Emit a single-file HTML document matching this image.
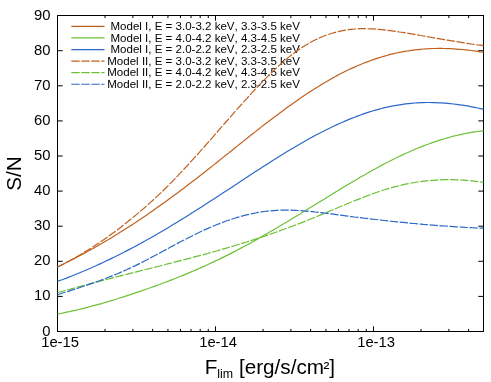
<!DOCTYPE html>
<html><head><meta charset="utf-8"><style>
html,body{margin:0;padding:0;background:#fff;}
svg{display:block;will-change:transform;font-family:"Liberation Sans",sans-serif;}
text{fill:#000;font-kerning:none;}
</style></head><body>
<svg width="491" height="382" viewBox="0 0 491 382">
<rect width="491" height="382" fill="#fff"/>
<path d="M57.5,296.40h5.2M483.5,296.40h-5.2M57.5,261.30h5.2M483.5,261.30h-5.2M57.5,226.20h5.2M483.5,226.20h-5.2M57.5,191.10h5.2M483.5,191.10h-5.2M57.5,156.00h5.2M483.5,156.00h-5.2M57.5,120.90h5.2M483.5,120.90h-5.2M57.5,85.80h5.2M483.5,85.80h-5.2M57.5,50.70h5.2M483.5,50.70h-5.2M105.06,331.5v-2.6M105.06,15.5v2.6M132.89,331.5v-2.6M132.89,15.5v2.6M152.63,331.5v-2.6M152.63,15.5v2.6M167.94,331.5v-2.6M167.94,15.5v2.6M180.45,331.5v-2.6M180.45,15.5v2.6M191.03,331.5v-2.6M191.03,15.5v2.6M200.19,331.5v-2.6M200.19,15.5v2.6M208.27,331.5v-2.6M208.27,15.5v2.6M215.50,331.5v-5.2M215.50,15.5v5.2M263.06,331.5v-2.6M263.06,15.5v2.6M290.89,331.5v-2.6M290.89,15.5v2.6M310.63,331.5v-2.6M310.63,15.5v2.6M325.94,331.5v-2.6M325.94,15.5v2.6M338.45,331.5v-2.6M338.45,15.5v2.6M349.03,331.5v-2.6M349.03,15.5v2.6M358.19,331.5v-2.6M358.19,15.5v2.6M366.27,331.5v-2.6M366.27,15.5v2.6M373.50,331.5v-5.2M373.50,15.5v5.2M421.06,331.5v-2.6M421.06,15.5v2.6M448.89,331.5v-2.6M448.89,15.5v2.6M468.63,331.5v-2.6M468.63,15.5v2.6" stroke="#000" stroke-width="1" fill="none"/>
<rect x="57.5" y="15.5" width="426.0" height="316.0" fill="none" stroke="#000" stroke-width="1"/>
<text x="50.4" y="335.50" font-size="14.8" text-anchor="end">0</text>
<text x="50.4" y="300.40" font-size="14.8" text-anchor="end">10</text>
<text x="50.4" y="265.30" font-size="14.8" text-anchor="end">20</text>
<text x="50.4" y="230.20" font-size="14.8" text-anchor="end">30</text>
<text x="50.4" y="195.10" font-size="14.8" text-anchor="end">40</text>
<text x="50.4" y="160.00" font-size="14.8" text-anchor="end">50</text>
<text x="50.4" y="124.90" font-size="14.8" text-anchor="end">60</text>
<text x="50.4" y="89.80" font-size="14.8" text-anchor="end">70</text>
<text x="50.4" y="54.70" font-size="14.8" text-anchor="end">80</text>
<text x="50.4" y="19.60" font-size="14.8" text-anchor="end">90</text>
<text x="60.10" y="347.0" font-size="14.8" text-anchor="middle">1e-15</text>
<text x="218.10" y="347.0" font-size="14.8" text-anchor="middle">1e-14</text>
<text x="376.10" y="347.0" font-size="14.8" text-anchor="middle">1e-13</text>
<path d="M71.3,26.40H104.5" stroke="#c0601f" stroke-width="1.2" fill="none"/>
<text x="299.9" y="30.20" font-size="11.54" text-anchor="end">Model I, E = 3.0-3.2 keV, 3.3-3.5 keV</text>
<path d="M71.3,37.97H104.5" stroke="#6cc035" stroke-width="1.2" fill="none"/>
<text x="299.9" y="41.77" font-size="11.54" text-anchor="end">Model I, E = 4.0-4.2 keV, 4.3-4.5 keV</text>
<path d="M71.3,49.54H104.5" stroke="#2b69c7" stroke-width="1.2" fill="none"/>
<text x="299.9" y="53.34" font-size="11.54" text-anchor="end">Model I, E = 2.0-2.2 keV, 2.3-2.5 keV</text>
<path d="M71.3,61.11H104.5" stroke="#c0601f" stroke-width="1.2" stroke-dasharray="8.4,1.6" fill="none"/>
<text x="299.9" y="64.91" font-size="11.54" text-anchor="end">Model II, E = 3.0-3.2 keV, 3.3-3.5 keV</text>
<path d="M71.3,72.68H104.5" stroke="#6cc035" stroke-width="1.2" stroke-dasharray="8.4,1.6" fill="none"/>
<text x="299.9" y="76.48" font-size="11.54" text-anchor="end">Model II, E = 4.0-4.2 keV, 4.3-4.5 keV</text>
<path d="M71.3,84.25H104.5" stroke="#2b69c7" stroke-width="1.2" stroke-dasharray="8.4,1.6" fill="none"/>
<text x="299.9" y="88.05" font-size="11.54" text-anchor="end">Model II, E = 2.0-2.2 keV, 2.3-2.5 keV</text>
<polyline points="57.5,267.0 60.5,265.5 63.5,264.0 66.5,262.5 69.5,261.0 72.5,259.5 75.5,257.9 78.5,256.3 81.5,254.7 84.5,253.1 87.5,251.5 90.5,249.8 93.5,248.2 96.5,246.5 99.5,244.7 102.5,243.0 105.5,241.2 108.5,239.5 111.5,237.7 114.5,235.8 117.5,234.0 120.5,232.1 123.5,230.2 126.5,228.3 129.5,226.4 132.5,224.4 135.5,222.5 138.5,220.5 141.5,218.5 144.5,216.4 147.5,214.4 150.5,212.3 153.5,210.2 156.5,208.1 159.5,206.0 162.5,203.8 165.5,201.7 168.5,199.5 171.5,197.3 174.5,195.1 177.5,192.9 180.5,190.6 183.5,188.4 186.5,186.1 189.5,183.8 192.5,181.5 195.5,179.2 198.5,176.9 201.5,174.6 204.5,172.2 207.5,169.8 210.5,167.5 213.5,165.1 216.5,162.7 219.5,160.3 222.5,157.9 225.5,155.5 228.5,153.1 231.5,150.7 234.5,148.3 237.5,145.9 240.5,143.5 243.5,141.1 246.5,138.7 249.5,136.3 252.5,134.0 255.5,131.6 258.5,129.3 261.5,126.9 264.5,124.6 267.5,122.3 270.5,120.0 273.5,117.7 276.5,115.4 279.5,113.2 282.5,111.0 285.5,108.8 288.5,106.6 291.5,104.4 294.5,102.3 297.5,100.2 300.5,98.1 303.5,96.1 306.5,94.1 309.5,92.1 312.5,90.2 315.5,88.2 318.5,86.4 321.5,84.5 324.5,82.7 327.5,81.0 330.5,79.2 333.5,77.6 336.5,75.9 339.5,74.3 342.5,72.8 345.5,71.3 348.5,69.8 351.5,68.4 354.5,67.1 357.5,65.8 360.5,64.5 363.5,63.3 366.5,62.1 369.5,61.0 372.5,59.9 375.5,58.9 378.5,57.9 381.5,57.0 384.5,56.1 387.5,55.2 390.5,54.4 393.5,53.7 396.5,53.0 399.5,52.4 402.5,51.8 405.5,51.2 408.5,50.8 411.5,50.3 414.5,49.9 417.5,49.6 420.5,49.3 423.5,49.0 426.5,48.8 429.5,48.7 432.5,48.5 435.5,48.5 438.5,48.4 441.5,48.4 444.5,48.5 447.5,48.6 450.5,48.7 453.5,48.9 456.5,49.1 459.5,49.3 462.5,49.5 465.5,49.8 468.5,50.2 471.5,50.5 474.5,50.9 477.5,51.3 480.5,51.8 483.5,52.2" fill="none" stroke="#c0601f" stroke-width="1.2" stroke-linejoin="round"/>
<polyline points="57.5,314.1 60.5,313.5 63.5,312.9 66.5,312.2 69.5,311.6 72.5,310.9 75.5,310.3 78.5,309.5 81.5,308.8 84.5,308.1 87.5,307.3 90.5,306.5 93.5,305.7 96.5,304.9 99.5,304.1 102.5,303.3 105.5,302.4 108.5,301.5 111.5,300.6 114.5,299.7 117.5,298.8 120.5,297.8 123.5,296.9 126.5,295.9 129.5,294.9 132.5,293.9 135.5,292.9 138.5,291.9 141.5,290.9 144.5,289.8 147.5,288.8 150.5,287.7 153.5,286.6 156.5,285.6 159.5,284.5 162.5,283.3 165.5,282.2 168.5,281.1 171.5,279.9 174.5,278.7 177.5,277.5 180.5,276.3 183.5,275.1 186.5,273.9 189.5,272.6 192.5,271.3 195.5,270.1 198.5,268.8 201.5,267.4 204.5,266.1 207.5,264.7 210.5,263.3 213.5,261.9 216.5,260.5 219.5,259.1 222.5,257.6 225.5,256.1 228.5,254.6 231.5,253.1 234.5,251.6 237.5,250.0 240.5,248.4 243.5,246.8 246.5,245.2 249.5,243.6 252.5,241.9 255.5,240.2 258.5,238.5 261.5,236.8 264.5,235.1 267.5,233.4 270.5,231.6 273.5,229.9 276.5,228.1 279.5,226.3 282.5,224.6 285.5,222.8 288.5,220.9 291.5,219.1 294.5,217.3 297.5,215.5 300.5,213.7 303.5,211.8 306.5,210.0 309.5,208.1 312.5,206.3 315.5,204.4 318.5,202.6 321.5,200.7 324.5,198.9 327.5,197.0 330.5,195.2 333.5,193.3 336.5,191.5 339.5,189.7 342.5,187.8 345.5,186.0 348.5,184.2 351.5,182.4 354.5,180.7 357.5,178.9 360.5,177.1 363.5,175.4 366.5,173.7 369.5,172.0 372.5,170.3 375.5,168.7 378.5,167.0 381.5,165.4 384.5,163.8 387.5,162.3 390.5,160.7 393.5,159.2 396.5,157.7 399.5,156.3 402.5,154.9 405.5,153.5 408.5,152.2 411.5,150.8 414.5,149.5 417.5,148.3 420.5,147.1 423.5,145.9 426.5,144.8 429.5,143.7 432.5,142.6 435.5,141.6 438.5,140.6 441.5,139.6 444.5,138.7 447.5,137.8 450.5,137.0 453.5,136.2 456.5,135.5 459.5,134.8 462.5,134.1 465.5,133.5 468.5,132.9 471.5,132.4 474.5,131.9 477.5,131.5 480.5,131.1 483.5,130.8" fill="none" stroke="#6cc035" stroke-width="1.2" stroke-linejoin="round"/>
<polyline points="57.5,281.4 60.5,280.3 63.5,279.2 66.5,278.1 69.5,276.9 72.5,275.7 75.5,274.5 78.5,273.3 81.5,272.0 84.5,270.8 87.5,269.5 90.5,268.2 93.5,266.8 96.5,265.5 99.5,264.1 102.5,262.7 105.5,261.3 108.5,259.9 111.5,258.4 114.5,257.0 117.5,255.5 120.5,254.0 123.5,252.5 126.5,250.9 129.5,249.4 132.5,247.8 135.5,246.2 138.5,244.6 141.5,242.9 144.5,241.3 147.5,239.6 150.5,237.9 153.5,236.2 156.5,234.5 159.5,232.7 162.5,231.0 165.5,229.2 168.5,227.4 171.5,225.6 174.5,223.8 177.5,222.0 180.5,220.1 183.5,218.3 186.5,216.4 189.5,214.5 192.5,212.6 195.5,210.7 198.5,208.8 201.5,206.9 204.5,205.0 207.5,203.0 210.5,201.1 213.5,199.2 216.5,197.2 219.5,195.3 222.5,193.3 225.5,191.3 228.5,189.4 231.5,187.4 234.5,185.4 237.5,183.4 240.5,181.5 243.5,179.5 246.5,177.5 249.5,175.5 252.5,173.6 255.5,171.6 258.5,169.7 261.5,167.7 264.5,165.8 267.5,163.9 270.5,162.0 273.5,160.1 276.5,158.2 279.5,156.3 282.5,154.4 285.5,152.6 288.5,150.8 291.5,149.0 294.5,147.2 297.5,145.4 300.5,143.7 303.5,142.0 306.5,140.3 309.5,138.6 312.5,136.9 315.5,135.3 318.5,133.7 321.5,132.2 324.5,130.7 327.5,129.2 330.5,127.7 333.5,126.3 336.5,124.9 339.5,123.5 342.5,122.2 345.5,120.9 348.5,119.6 351.5,118.4 354.5,117.2 357.5,116.1 360.5,115.0 363.5,113.9 366.5,112.9 369.5,111.9 372.5,111.0 375.5,110.1 378.5,109.3 381.5,108.5 384.5,107.7 387.5,107.1 390.5,106.4 393.5,105.8 396.5,105.3 399.5,104.8 402.5,104.3 405.5,103.9 408.5,103.6 411.5,103.3 414.5,103.0 417.5,102.8 420.5,102.7 423.5,102.6 426.5,102.5 429.5,102.5 432.5,102.6 435.5,102.6 438.5,102.8 441.5,102.9 444.5,103.1 447.5,103.4 450.5,103.7 453.5,104.0 456.5,104.4 459.5,104.8 462.5,105.2 465.5,105.7 468.5,106.2 471.5,106.8 474.5,107.4 477.5,108.0 480.5,108.7 483.5,109.4" fill="none" stroke="#2b69c7" stroke-width="1.2" stroke-linejoin="round"/>
<polyline points="57.5,267.0 60.5,265.5 63.5,264.0 66.5,262.4 69.5,260.8 72.5,259.1 75.5,257.4 78.5,255.7 81.5,253.9 84.5,252.1 87.5,250.3 90.5,248.4 93.5,246.5 96.5,244.5 99.5,242.5 102.5,240.4 105.5,238.4 108.5,236.2 111.5,234.1 114.5,231.9 117.5,229.7 120.5,227.4 123.5,225.1 126.5,222.7 129.5,220.3 132.5,217.9 135.5,215.4 138.5,212.9 141.5,210.4 144.5,207.8 147.5,205.1 150.5,202.4 153.5,199.7 156.5,196.9 159.5,194.1 162.5,191.2 165.5,188.3 168.5,185.3 171.5,182.3 174.5,179.2 177.5,176.1 180.5,172.9 183.5,169.7 186.5,166.5 189.5,163.2 192.5,159.9 195.5,156.6 198.5,153.3 201.5,149.9 204.5,146.5 207.5,143.1 210.5,139.7 213.5,136.3 216.5,132.8 219.5,129.4 222.5,125.9 225.5,122.5 228.5,119.1 231.5,115.7 234.5,112.2 237.5,108.9 240.5,105.5 243.5,102.1 246.5,98.8 249.5,95.5 252.5,92.2 255.5,89.0 258.5,85.8 261.5,82.7 264.5,79.6 267.5,76.6 270.5,73.6 273.5,70.7 276.5,67.9 279.5,65.1 282.5,62.5 285.5,59.9 288.5,57.4 291.5,55.0 294.5,52.7 297.5,50.6 300.5,48.5 303.5,46.5 306.5,44.7 309.5,42.9 312.5,41.3 315.5,39.8 318.5,38.3 321.5,37.0 324.5,35.8 327.5,34.7 330.5,33.7 333.5,32.8 336.5,32.0 339.5,31.3 342.5,30.6 345.5,30.1 348.5,29.7 351.5,29.3 354.5,29.0 357.5,28.8 360.5,28.7 363.5,28.7 366.5,28.7 369.5,28.8 372.5,28.9 375.5,29.1 378.5,29.3 381.5,29.6 384.5,29.9 387.5,30.3 390.5,30.7 393.5,31.1 396.5,31.5 399.5,32.0 402.5,32.4 405.5,32.9 408.5,33.4 411.5,33.9 414.5,34.4 417.5,34.9 420.5,35.5 423.5,36.0 426.5,36.5 429.5,37.0 432.5,37.6 435.5,38.1 438.5,38.6 441.5,39.2 444.5,39.7 447.5,40.2 450.5,40.7 453.5,41.2 456.5,41.7 459.5,42.2 462.5,42.7 465.5,43.2 468.5,43.6 471.5,44.0 474.5,44.5 477.5,44.9 480.5,45.2 483.5,45.6" fill="none" stroke="#c0601f" stroke-width="1.2" stroke-dasharray="8.4,1.6" stroke-linejoin="round"/>
<polyline points="57.5,292.7 60.5,291.8 63.5,291.0 66.5,290.2 69.5,289.4 72.5,288.5 75.5,287.7 78.5,286.9 81.5,286.1 84.5,285.3 87.5,284.5 90.5,283.7 93.5,282.9 96.5,282.1 99.5,281.3 102.5,280.5 105.5,279.8 108.5,279.0 111.5,278.2 114.5,277.4 117.5,276.7 120.5,275.9 123.5,275.1 126.5,274.4 129.5,273.6 132.5,272.8 135.5,272.1 138.5,271.3 141.5,270.5 144.5,269.8 147.5,269.0 150.5,268.3 153.5,267.5 156.5,266.8 159.5,266.0 162.5,265.2 165.5,264.5 168.5,263.7 171.5,263.0 174.5,262.2 177.5,261.4 180.5,260.6 183.5,259.9 186.5,259.1 189.5,258.3 192.5,257.5 195.5,256.7 198.5,255.9 201.5,255.1 204.5,254.3 207.5,253.5 210.5,252.6 213.5,251.8 216.5,251.0 219.5,250.1 222.5,249.2 225.5,248.4 228.5,247.5 231.5,246.6 234.5,245.7 237.5,244.8 240.5,243.9 243.5,242.9 246.5,242.0 249.5,241.0 252.5,240.1 255.5,239.1 258.5,238.1 261.5,237.1 264.5,236.1 267.5,235.1 270.5,234.1 273.5,233.0 276.5,232.0 279.5,230.9 282.5,229.8 285.5,228.7 288.5,227.6 291.5,226.5 294.5,225.4 297.5,224.2 300.5,223.1 303.5,221.9 306.5,220.7 309.5,219.5 312.5,218.3 315.5,217.1 318.5,215.8 321.5,214.6 324.5,213.3 327.5,212.1 330.5,210.8 333.5,209.5 336.5,208.3 339.5,207.0 342.5,205.7 345.5,204.5 348.5,203.2 351.5,202.0 354.5,200.8 357.5,199.6 360.5,198.4 363.5,197.2 366.5,196.1 369.5,195.0 372.5,193.9 375.5,192.8 378.5,191.8 381.5,190.8 384.5,189.8 387.5,188.9 390.5,188.0 393.5,187.2 396.5,186.4 399.5,185.6 402.5,184.9 405.5,184.2 408.5,183.6 411.5,183.0 414.5,182.5 417.5,182.0 420.5,181.6 423.5,181.2 426.5,180.9 429.5,180.6 432.5,180.3 435.5,180.1 438.5,179.9 441.5,179.8 444.5,179.7 447.5,179.7 450.5,179.7 453.5,179.7 456.5,179.8 459.5,180.0 462.5,180.1 465.5,180.3 468.5,180.6 471.5,180.9 474.5,181.2 477.5,181.6 480.5,182.0 483.5,182.4" fill="none" stroke="#6cc035" stroke-width="1.2" stroke-dasharray="8.4,1.6" stroke-linejoin="round"/>
<polyline points="57.5,294.8 60.5,293.8 63.5,292.8 66.5,291.9 69.5,290.9 72.5,289.9 75.5,288.9 78.5,288.0 81.5,287.0 84.5,286.0 87.5,284.9 90.5,283.9 93.5,282.9 96.5,281.8 99.5,280.7 102.5,279.6 105.5,278.5 108.5,277.3 111.5,276.1 114.5,274.9 117.5,273.7 120.5,272.4 123.5,271.1 126.5,269.8 129.5,268.4 132.5,267.0 135.5,265.6 138.5,264.1 141.5,262.6 144.5,261.0 147.5,259.5 150.5,257.9 153.5,256.3 156.5,254.7 159.5,253.1 162.5,251.5 165.5,249.9 168.5,248.3 171.5,246.6 174.5,245.0 177.5,243.4 180.5,241.8 183.5,240.3 186.5,238.7 189.5,237.2 192.5,235.7 195.5,234.2 198.5,232.7 201.5,231.3 204.5,229.9 207.5,228.6 210.5,227.3 213.5,226.0 216.5,224.8 219.5,223.6 222.5,222.4 225.5,221.3 228.5,220.3 231.5,219.3 234.5,218.3 237.5,217.4 240.5,216.5 243.5,215.7 246.5,214.9 249.5,214.2 252.5,213.6 255.5,213.0 258.5,212.4 261.5,211.9 264.5,211.5 267.5,211.1 270.5,210.8 273.5,210.6 276.5,210.4 279.5,210.2 282.5,210.2 285.5,210.1 288.5,210.1 291.5,210.2 294.5,210.3 297.5,210.5 300.5,210.6 303.5,210.9 306.5,211.1 309.5,211.4 312.5,211.7 315.5,212.0 318.5,212.3 321.5,212.7 324.5,213.1 327.5,213.4 330.5,213.8 333.5,214.2 336.5,214.6 339.5,215.0 342.5,215.4 345.5,215.8 348.5,216.2 351.5,216.6 354.5,217.0 357.5,217.3 360.5,217.7 363.5,218.1 366.5,218.4 369.5,218.8 372.5,219.2 375.5,219.5 378.5,219.8 381.5,220.2 384.5,220.5 387.5,220.8 390.5,221.2 393.5,221.5 396.5,221.8 399.5,222.1 402.5,222.4 405.5,222.7 408.5,223.0 411.5,223.3 414.5,223.5 417.5,223.8 420.5,224.1 423.5,224.4 426.5,224.6 429.5,224.9 432.5,225.1 435.5,225.3 438.5,225.6 441.5,225.8 444.5,226.0 447.5,226.2 450.5,226.4 453.5,226.6 456.5,226.8 459.5,227.0 462.5,227.2 465.5,227.4 468.5,227.5 471.5,227.7 474.5,227.8 477.5,228.0 480.5,228.1 483.5,228.2" fill="none" stroke="#2b69c7" stroke-width="1.2" stroke-dasharray="8.4,1.6" stroke-linejoin="round"/>
<text x="204.7" y="374.4" font-size="20.7">F<tspan font-size="12.4" dy="3.1">lim</tspan><tspan dy="-3.1"> [erg/s/cm</tspan><tspan font-size="17.6" dx="-0.4" dy="-0.9">²</tspan><tspan dy="0.9" dx="-0.2">]</tspan></text>
<text transform="translate(20.5,173.5) rotate(-90)" font-size="20.7" text-anchor="middle">S/N</text>
</svg>
</body></html>
